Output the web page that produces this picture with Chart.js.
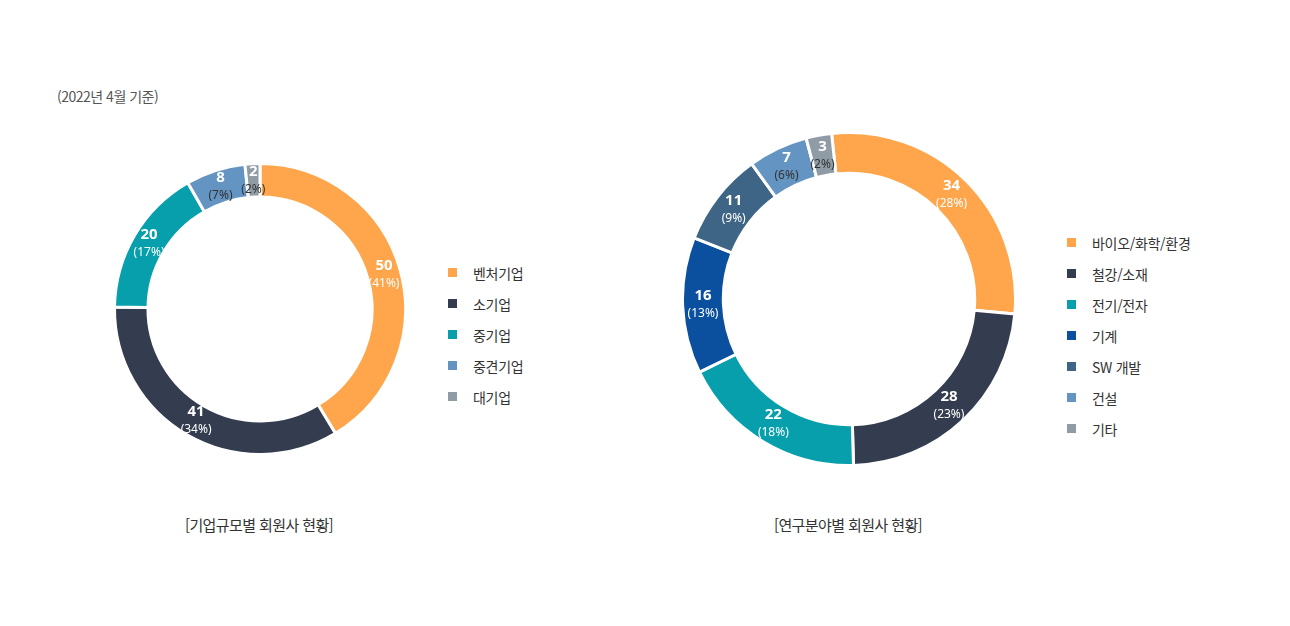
<!DOCTYPE html>
<html lang="ko">
<head>
<meta charset="utf-8">
<script src="https://cdn.jsdelivr.net/npm/chart.js@4"></script>
<style>
  body { margin: 0; width: 1290px; height: 626px; background: #fff; position: relative; overflow: hidden;
    font-family: "Noto Sans CJK KR", "Noto Sans", sans-serif; color: #333; }
  .note { position: absolute; left: 57px; top: 86px; font-size: 14px; color: #555; letter-spacing: -0.5px; }
  .box { position: absolute; }
  .legend { position: absolute; font-size: 14px; color: #333; letter-spacing: -0.3px; }
  .legend div { display: flex; align-items: center; height: 31px; }
  .legend span.sw { width: 9px; height: 9px; margin-right: 16px; display: inline-block; }
  .caption { position: absolute; top: 514px; font-size: 15px; color: #333; width: 300px; text-align: center; letter-spacing: -0.6px; }
</style>
</head>
<body>
<div class="note">(2022년 4월 기준)</div>

<div class="box" style="left:112px; top:161px; width:296px; height:296px;"><canvas id="size-chart"></canvas></div>
<div class="legend" id="size-legend" style="left:448px; top:257px;"></div>
<div class="caption" style="left:109px;">[기업규모별 회원사 현황]</div>

<div class="box" style="left:680px; top:130px; width:338px; height:338px;"><canvas id="field-chart"></canvas></div>
<div class="legend" id="field-legend" style="left:1067px; top:227px;"></div>
<div class="caption" style="left:698px;">[연구분야별 회원사 현황]</div>

<script>
// 기업규모별
const sizeLabels = ["벤처기업", "소기업", "중기업", "중견기업", "대기업"]
const sizeValues = [50, 41, 20, 8, 2]
const sizeColors = ["#FFA54B", "#343C4F", "#079FAB", "#6494C2", "#8F9CA6"]

// 연구분야별
const fieldLabels = ["바이오/화학/환경", "철강/소재", "전기/전자", "기계", "SW 개발", "건설", "기타"]
const fieldValues = [34, 28, 22, 16, 11, 7, 3]
const fieldColors = ["#FFA54B", "#343C4F", "#079FAB", "#0B4F9F", "#3E6585", "#6494C2", "#8F9CA6"]

// 조각 위에 값과 비율 표시
const sliceLabels = {
  id: "sliceLabels",
  afterDatasetsDraw(chart) {
    const ctx = chart.ctx
    const data = chart.data.datasets[0].data
    const total = data.reduce((a, b) => a + b, 0)
    chart.getDatasetMeta(0).data.forEach((arc, i) => {
      const pos = arc.tooltipPosition()
      const pct = Math.round((data[i] / total) * 100)
      ctx.save()
      ctx.textAlign = "center"
      ctx.textBaseline = "middle"
      ctx.fillStyle = "#fff"
      ctx.font = "bold 15px 'Noto Sans', sans-serif"
      ctx.fillText(String(data[i]), pos.x, pos.y - 9)
      ctx.fillStyle = pct < 8 ? "#333" : "#fff"
      ctx.font = "12px 'Noto Sans', sans-serif"
      ctx.fillText("(" + pct + "%)", pos.x, pos.y + 9)
      ctx.restore()
    })
  },
}

function createDonut(id, labels, values, colors, cutout, rotation) {
  const ctx = document.getElementById(id).getContext("2d")
  new Chart(ctx, {
    type: "doughnut",
    data: {
      labels: labels,
      datasets: [
        {
          data: values,
          backgroundColor: colors,
          borderColor: "#fff",
          borderWidth: 3,
        },
      ],
    },
    options: {
      responsive: true,
      maintainAspectRatio: false,
      animation: false,
      cutout: cutout,
      rotation: rotation,
      layout: { padding: 1 },
      plugins: {
        legend: { display: false },
        tooltip: { enabled: false },
      },
    },
    plugins: [sliceLabels],
  })
}

function buildLegend(id, labels, colors) {
  document.getElementById(id).innerHTML = labels
    .map((l, i) => `<div><span class="sw" style="background:${colors[i]}"></span>${l}</div>`)
    .join("")
}

createDonut("size-chart", sizeLabels, sizeValues, sizeColors, "77%", 0)
createDonut("field-chart", fieldLabels, fieldValues, fieldColors, "75.5%", -6)
buildLegend("size-legend", sizeLabels, sizeColors)
buildLegend("field-legend", fieldLabels, fieldColors)
</script>
</body>
</html>
